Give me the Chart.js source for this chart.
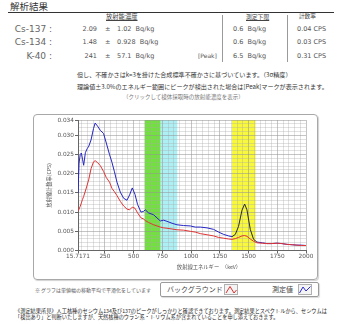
<!DOCTYPE html>
<html lang="ja">
<head>
<meta charset="utf-8">
<script src="https://cdn.jsdelivr.net/npm/chart.js@4.4.1/dist/chart.umd.min.js"></script>
<style>
html,body{margin:0;padding:0;background:#fff;}
body{width:347px;height:324px;position:relative;overflow:hidden;font-family:'DejaVu Sans','Noto Sans CJK JP',sans-serif;color:#444;}
.t{position:absolute;white-space:nowrap;line-height:1;}
.jp{font-family:'Noto Sans CJK JP',sans-serif;}
.rule{position:absolute;background:#333;}
.sep{position:absolute;width:1px;background:#9a9a9a;}
#frame{position:absolute;left:33px;top:114px;width:283px;height:164px;border:1px solid #a8a8a8;border-radius:4px;box-shadow:1px 1px 1px rgba(0,0,0,0.18);}
#plot{display:block;}
#legend{position:absolute;left:160px;top:282px;width:157px;height:13px;border:1px solid #9a9a9a;border-radius:2px;box-shadow:1px 1px 1px rgba(0,0,0,0.15);}
.icon{position:absolute;}
</style>
</head>
<body>
<div class="t jp" style="left:10px;top:2px;font-size:9.5px;color:#333">解析結果</div>
<div class="rule" style="left:8px;top:12px;width:326px;height:1px"></div>

<div class="t jp" style="left:106px;top:14px;font-size:6.3px;color:#444;text-decoration:underline">放射能濃度</div>
<div class="t jp" style="left:246px;top:14px;font-size:5.8px;color:#444;text-decoration:underline">測定下限</div>
<div class="t jp" style="left:299px;top:14px;font-size:5.6px;color:#444">計数率</div>
<div class="sep" style="left:222px;top:15px;height:47px"></div>
<div class="sep" style="left:287px;top:15px;height:47px"></div>
<div id="rows"></div>

<div class="t jp" style="left:77px;top:71.5px;font-size:6.1px;color:#333">但し、不確かさはk=3を掛けた合成標準不確かさに基づいています。（3σ精度）</div>
<div class="t jp" style="left:77px;top:84px;font-size:6.1px;color:#333">理論値±3.0%のエネルギー範囲にピークが検出された場合は[Peak]マークが表示されます。</div>
<div class="t jp" style="left:123px;top:94.8px;font-size:5.5px;color:#777">（クリックして検体採取時の放射能濃度を表示）</div>

<div id="frame"><canvas id="plot" width="283" height="164"></canvas></div>

<div class="t jp" style="left:35px;top:287px;font-size:5px;color:#555">※ グラフは単値幅の移動平均で平滑化をしています</div>
<div id="legend"></div>
<div class="t jp" style="left:167px;top:286px;font-size:7px;color:#444">バックグラウンド</div>
<svg class="icon" style="left:224px;top:284px" width="14" height="11" viewBox="0 0 14 11">
  <rect x="0.5" y="0.5" width="13" height="10" fill="#f4f4f4" stroke="#b0b0b0"/>
  <polyline points="2,9 6,2.5 10,9 12.5,6" fill="none" stroke="#e03030" stroke-width="1"/>
</svg>
<div class="t jp" style="left:272px;top:286px;font-size:7px;color:#444">測定値</div>
<svg class="icon" style="left:298px;top:284px" width="14" height="11" viewBox="0 0 14 11">
  <rect x="0.5" y="0.5" width="13" height="10" fill="#f4f4f4" stroke="#b0b0b0"/>
  <polyline points="1.5,9 5,3 8,7 12.5,2.5" fill="none" stroke="#2a2ad0" stroke-width="1"/>
</svg>

<div class="t jp" style="left:15px;top:308px;font-size:5.2px;color:#222">《測定結果所見》人工核種のセシウム134及び137のピークがしっかりと確認できております。測定結果とスペクトルから、セシウムは</div>
<div class="t jp" style="left:15px;top:313.5px;font-size:5.2px;color:#222">「検出あり」と判断いたしますが、天然核種のウラン系・トリウム系が含まれていることを申し添えておきます。</div>

<script>
// Analysis results per nuclide
const nuclides = ['Cs-137', 'Cs-134', 'K-40'];
const concentration = ['2.09', '1.48', '241'];
const uncertainty = ['1.02', '0.928', '57.1'];
const detectionLimit = ['0.6', '0.6', '6.5'];
const countRate = ['0.04', '0.03', '0.31'];
const peakFound = [false, false, true];

// Spectrum (energy in keV, count rate in CPS)
const energy = [15.7171, 25, 35, 45, 55, 65, 80, 95, 110, 129, 151, 165, 186, 210, 238, 262, 290, 311, 333, 355,
  384, 413, 442, 465, 488, 512, 534, 564, 587, 601, 630, 674, 703, 732, 761, 790, 834, 877, 935, 993,
  1036, 1080, 1138, 1196, 1239, 1283, 1326, 1356, 1385, 1413, 1443, 1466, 1486, 1515, 1544, 1573,
  1620, 1660, 1700, 1747, 1790, 1834, 1880, 1921, 1960, 2000];
const measured = [0.0150, 0.0228, 0.0250, 0.0254, 0.0238, 0.0222, 0.0255, 0.0265, 0.0272, 0.0288, 0.0318, 0.0332,
  0.0324, 0.0313, 0.0305, 0.0280, 0.0250, 0.0230, 0.0205, 0.0178, 0.0152, 0.0136, 0.0131, 0.0145, 0.0163,
  0.0146, 0.0120, 0.0100, 0.0102, 0.0106, 0.0098, 0.0093, 0.0085, 0.0077, 0.0079, 0.0076, 0.0071, 0.0067,
  0.0065, 0.0064, 0.0061, 0.0061, 0.0059, 0.0055, 0.0048, 0.0042, 0.0038, 0.0036, 0.0042, 0.0063, 0.0105,
  0.0121, 0.0106, 0.0055, 0.0029, 0.0022, 0.0020, 0.0018, 0.0018, 0.0019, 0.0018, 0.0016, 0.0015, 0.0014,
  0.0014, 0.0013];
const background = [0.0102, 0.0108, 0.0115, 0.0124, 0.0133, 0.0141, 0.0155, 0.0170, 0.0186, 0.0213, 0.0231, 0.0234,
  0.0229, 0.0221, 0.0206, 0.0190, 0.0178, 0.0162, 0.0153, 0.0143, 0.0128, 0.0116, 0.0108, 0.0106, 0.0113,
  0.0110, 0.0098, 0.0085, 0.0082, 0.0078, 0.0073, 0.0067, 0.0064, 0.0061, 0.0059, 0.0058, 0.0056, 0.0054,
  0.0053, 0.0050, 0.0048, 0.0044, 0.0041, 0.0038, 0.0034, 0.0032, 0.0030, 0.0029, 0.0031, 0.0034, 0.0038,
  0.0039, 0.0037, 0.0030, 0.0024, 0.0020, 0.0019, 0.0018, 0.0018, 0.0019, 0.0018, 0.0016, 0.0015, 0.0014,
  0.0013, 0.0013];

// Axis labels
const xTickLabels = [15.7171, 250, 500, 750, 1000, 1250, 1500, 1750, 2000];
const yTickLabels = [0, 0.005, 0.010, 0.015, 0.020, 0.025, 0.030, 0.034];

// Regions of interest (keV): Cs-134/Cs-137, Cs-134 (796), K-40
const roiBands = [[595, 735], [735, 880], [1356, 1561]];
const peakWindow = [1356, 1573];

// ---- results table ----
(function buildRows() {
  const host = document.getElementById('rows');
  const rowY = [29, 42.5, 56];
  const add = (html, style) => {
    const d = document.createElement('div');
    d.className = 't';
    d.style.cssText = style;
    d.innerHTML = html;
    host.appendChild(d);
  };
  nuclides.forEach((n, i) => {
    const y = rowY[i];
    add(n + ' :', `right:${347 - 52}px;top:${y - 4.5}px;font-size:9px;color:#666`);
    add(concentration[i], `right:${347 - 97}px;top:${y - 3.3}px;font-size:6.5px;color:#555`);
    add('±', `left:105px;top:${y - 3.3}px;font-size:6.5px;color:#555`);
    add(uncertainty[i] + '&nbsp;&nbsp;Bq/kg', `left:117px;top:${y - 3.3}px;font-size:6.5px;color:#555`);
    if (peakFound[i]) add('[Peak]', `left:198px;top:${y - 3.3}px;font-size:6px;color:#555`);
    add(detectionLimit[i] + '&nbsp;&nbsp;Bq/kg', `left:233px;top:${y - 3.3}px;font-size:6.5px;color:#555`);
    add(countRate[i] + ' CPS', `left:297px;top:${y - 3.3}px;font-size:6.5px;color:#555`);
  });
})();

// ---- spectrum chart ----
const bandColors = ['#72e03e', '#acf0f5', '#f8f83c'];
const xGrid = [15.7171];
for (let v = 50; v <= 2000; v += 50) xGrid.push(v);
const yGrid = [];
for (let i = 0; i <= 34; i++) yGrid.push(i / 1000);
const isMajor = (list, v) => list.some(t => Math.abs(t - v) < 1e-9);
const inPeak = v => v >= peakWindow[0] && v <= peakWindow[1];

const bandsPlugin = {
  id: 'roiBands',
  beforeDraw(chart) {
    const { ctx, chartArea: a, scales: { x } } = chart;
    ctx.save();
    roiBands.forEach((b, i) => {
      const l = x.getPixelForValue(b[0]);
      const r = x.getPixelForValue(b[1]);
      ctx.fillStyle = bandColors[i];
      ctx.fillRect(l, a.top, r - l, a.bottom - a.top);
    });
    ctx.restore();
  }
};

const xTitlePlugin = {
  id: 'energyTitle',
  afterDraw(chart) {
    const { ctx, chartArea: a } = chart;
    ctx.save();
    ctx.font = "5.3px 'Noto Sans CJK JP'";
    ctx.fillStyle = '#555';
    ctx.textAlign = 'center';
    ctx.textBaseline = 'middle';
    ctx.fillText('放射線エネルギー　（keV）', (a.left + a.right) / 2 + 17, 152);
    ctx.restore();
  }
};

Chart.defaults.font.family = "'DejaVu Sans','Noto Sans CJK JP',sans-serif";
Chart.defaults.color = '#555';

new Chart(document.getElementById('plot'), {
  type: 'line',
  data: {
    datasets: [
      {
        label: 'バックグラウンド',
        data: energy.map((x, i) => ({ x, y: background[i] })),
        borderColor: '#e03434',
        borderWidth: 1,
        pointRadius: 0,
        tension: 0,
        order: 0
      },
      {
        label: '測定値',
        data: energy.map((x, i) => ({ x, y: measured[i] })),
        borderColor: '#2424c4',
        borderWidth: 1,
        pointRadius: 0,
        tension: 0,
        order: 1,
        segment: {
          borderColor: c => (inPeak(c.p0.parsed.x) && inPeak(c.p1.parsed.x)) ? '#2a2a2a' : '#2424c4'
        }
      }
    ]
  },
  options: {
    responsive: false,
    animation: false,
    devicePixelRatio: 1,
    layout: { padding: { top: 5, right: 11, left: 0, bottom: 0 } },
    plugins: { legend: { display: false }, tooltip: { enabled: false } },
    scales: {
      x: {
        type: 'linear',
        min: 15.7171,
        max: 2000,
        afterBuildTicks: s => { s.ticks = xGrid.map(v => ({ value: v })); },
        afterFit: s => { s.height = 28.5; },
        ticks: {
          autoSkip: false,
          maxRotation: 0,
          padding: 0,
          font: { size: 5.8 },
          color: '#555',
          callback: v => isMajor(xTickLabels, v) ? (v === 15.7171 ? '15.7171' : String(v)) : ''
        },
        grid: {
          color: c => isMajor(xTickLabels, c.tick ? c.tick.value : NaN) ? 'rgba(150,150,150,0.55)' : 'rgba(170,170,170,0.35)',
          tickColor: c => isMajor(xTickLabels, c.tick ? c.tick.value : NaN) ? '#666' : 'rgba(0,0,0,0)',
          tickLength: 3,
          lineWidth: 1
        },
        border: { color: '#666', width: 1 }
      },
      y: {
        type: 'linear',
        min: 0,
        max: 0.034,
        afterBuildTicks: s => { s.ticks = yGrid.map(v => ({ value: v })); },
        afterFit: s => { s.width = 44; },
        ticks: {
          autoSkip: false,
          padding: 1,
          font: { size: 5.8 },
          color: '#555',
          callback: v => isMajor(yTickLabels, v) ? v.toFixed(3) : ''
        },
        grid: {
          color: c => isMajor(yTickLabels, c.tick ? c.tick.value : NaN) ? 'rgba(150,150,150,0.55)' : 'rgba(170,170,170,0.35)',
          tickColor: c => isMajor(yTickLabels, c.tick ? c.tick.value : NaN) ? '#666' : 'rgba(0,0,0,0)',
          tickLength: 3,
          lineWidth: 1
        },
        border: { color: '#666', width: 1 },
        title: {
          display: true,
          text: '放射線計数率(CPS)',
          font: { size: 5.2, family: "'Noto Sans CJK JP','DejaVu Sans',sans-serif" },
          color: '#555',
          padding: { top: 12, bottom: 0 }
        }
      }
    }
  },
  plugins: [bandsPlugin, xTitlePlugin]
});
</script>
</body>
</html>
